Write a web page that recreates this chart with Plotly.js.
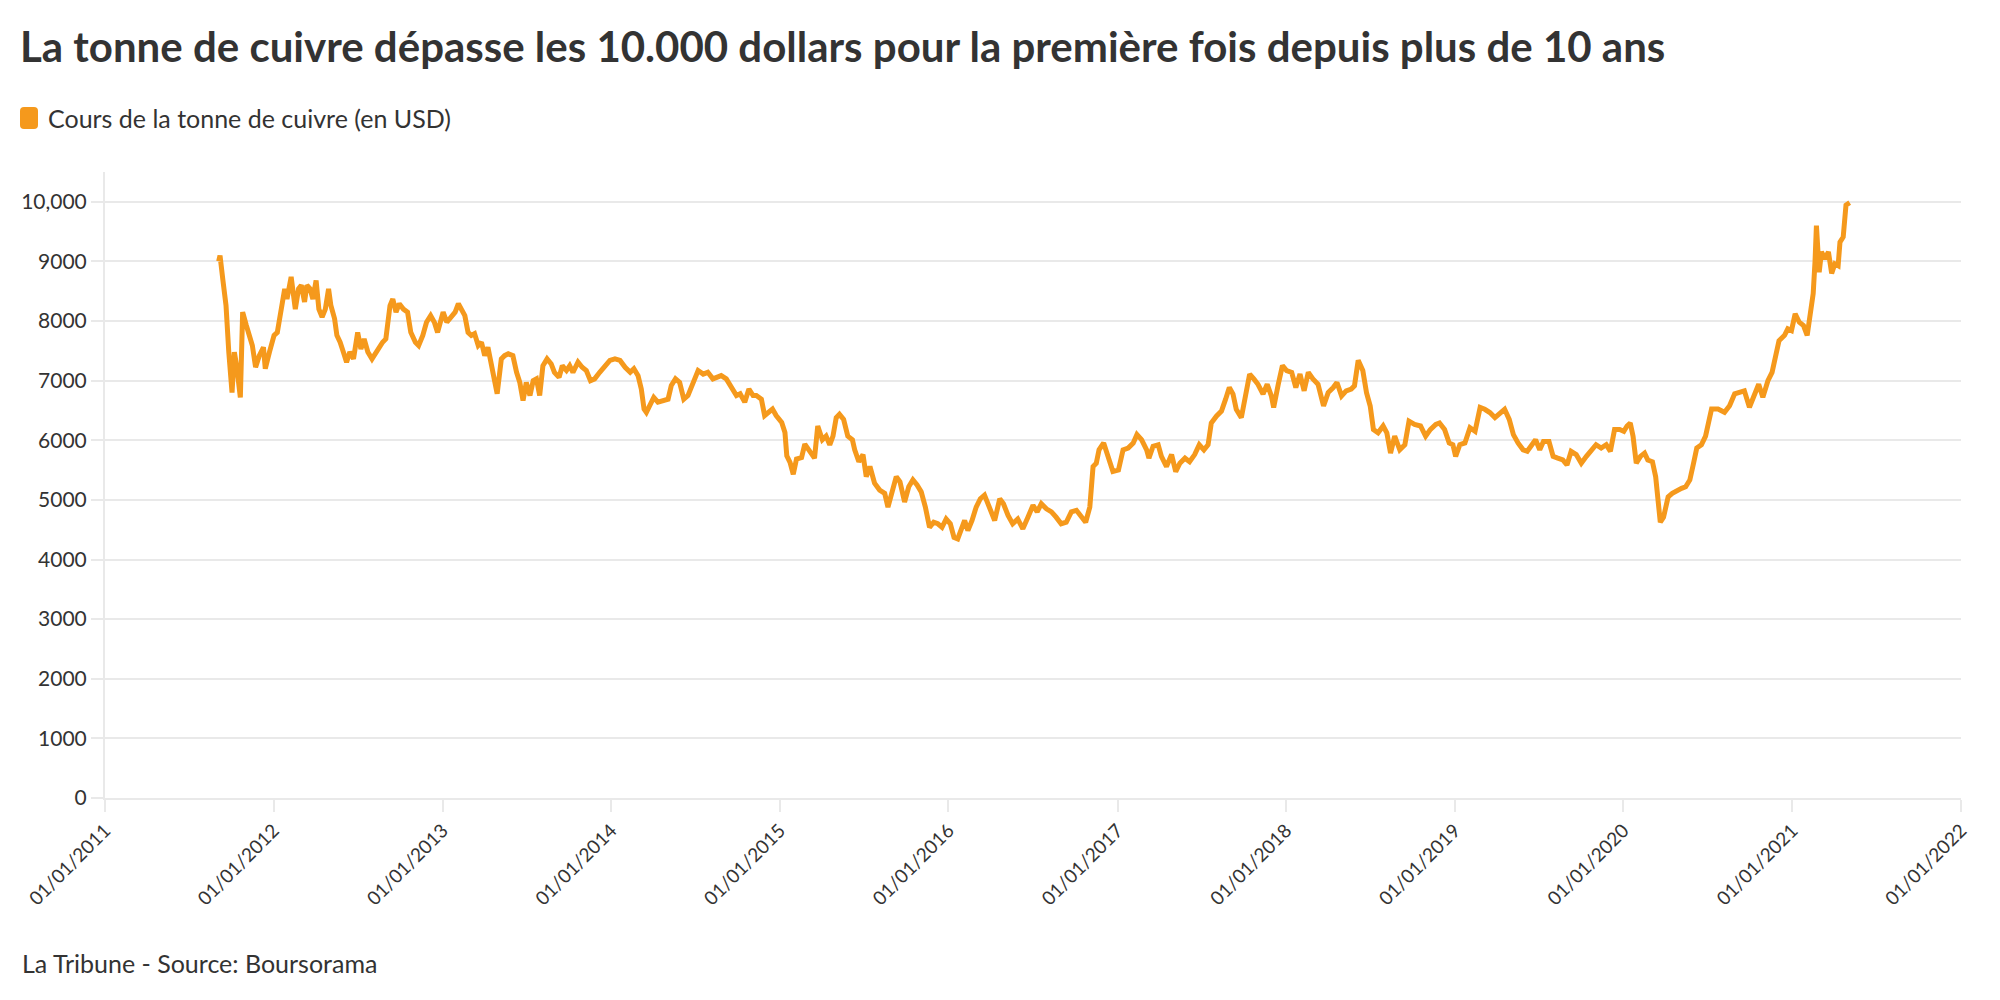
<!DOCTYPE html>
<html>
<head>
<meta charset="utf-8">
<script src="https://cdn.plot.ly/plotly-3.0.1.min.js"></script>
<style>
  html, body { margin: 0; padding: 0; background: #ffffff; }
  #chart { width: 2000px; height: 1000px; }
</style>
</head>
<body>
<div id="chart"></div>
<script>
// Cours de la tonne de cuivre (USD), relevés de septembre 2011 à mai 2021
const dates = [
  '2011-09-04','2011-09-07','2011-09-13','2011-09-20','2011-09-26','2011-10-03','2011-10-08','2011-10-13','2011-10-21','2011-10-26',
  '2011-11-03','2011-11-10','2011-11-16','2011-11-23','2011-12-01','2011-12-10','2011-12-14','2011-12-23',
  '2012-01-02','2012-01-09','2012-01-14','2012-01-20','2012-01-25','2012-01-30','2012-02-08','2012-02-17','2012-02-24','2012-03-01',
  '2012-03-08','2012-03-13','2012-03-20','2012-03-26','2012-04-02','2012-04-08','2012-04-15','2012-04-22','2012-04-29','2012-05-04',
  '2012-05-12','2012-05-17','2012-05-24','2012-05-31','2012-06-07','2012-06-14','2012-06-22','2012-07-01','2012-07-08','2012-07-15',
  '2012-07-23','2012-08-01','2012-08-10','2012-08-17','2012-08-24','2012-08-31','2012-09-09','2012-09-15','2012-09-22','2012-09-29',
  '2012-10-08','2012-10-17','2012-10-24','2012-11-03','2012-11-10','2012-11-19','2012-11-27','2012-12-06','2012-12-14','2012-12-21',
  '2013-01-02','2013-01-10','2013-01-18','2013-01-28','2013-02-04','2013-02-11','2013-02-18','2013-02-25','2013-03-04','2013-03-11',
  '2013-03-19','2013-03-26','2013-04-02','2013-04-09','2013-04-17','2013-04-24','2013-04-29','2013-05-08','2013-05-15','2013-05-23',
  '2013-06-02','2013-06-10','2013-06-17','2013-06-24','2013-07-01','2013-07-09','2013-07-16','2013-07-23','2013-07-30','2013-08-06',
  '2013-08-15','2013-08-24','2013-08-31','2013-09-10','2013-09-17','2013-09-26','2013-10-03','2013-10-10','2013-10-21','2013-10-30',
  '2013-11-08','2013-11-17','2013-11-26','2013-12-07','2013-12-18','2013-12-29',
  '2014-01-09','2014-01-20','2014-01-31','2014-02-11','2014-02-19','2014-02-28','2014-03-07','2014-03-13','2014-03-18','2014-03-27',
  '2014-04-03','2014-04-12','2014-04-23','2014-05-04','2014-05-11','2014-05-20','2014-05-29','2014-06-07','2014-06-16','2014-06-27',
  '2014-07-08','2014-07-19','2014-07-29','2014-08-09','2014-08-18','2014-08-27','2014-09-07','2014-09-18','2014-09-29','2014-10-07',
  '2014-10-17','2014-10-26','2014-11-04','2014-11-11','2014-11-22','2014-11-29','2014-12-06','2014-12-16','2014-12-24',
  '2015-01-05','2015-01-12','2015-01-16','2015-01-23','2015-01-30','2015-02-06','2015-02-17','2015-02-24','2015-03-03','2015-03-07',
  '2015-03-17','2015-03-24','2015-04-03','2015-04-11','2015-04-19','2015-04-26','2015-05-03','2015-05-10','2015-05-19','2015-05-28',
  '2015-06-07','2015-06-12','2015-06-21','2015-06-30','2015-07-07','2015-07-15','2015-07-25','2015-08-05','2015-08-16','2015-08-23',
  '2015-09-01','2015-09-10','2015-09-18','2015-09-28','2015-10-07','2015-10-16','2015-10-25','2015-11-03','2015-11-12','2015-11-21',
  '2015-11-30','2015-12-09','2015-12-18','2015-12-27',
  '2016-01-05','2016-01-13','2016-01-21','2016-01-29','2016-02-05','2016-02-12','2016-02-21','2016-03-01','2016-03-10','2016-03-19',
  '2016-03-30','2016-04-10','2016-04-21','2016-04-29','2016-05-09','2016-05-19','2016-05-30','2016-06-10','2016-06-21','2016-07-02',
  '2016-07-11','2016-07-20','2016-07-31','2016-08-11','2016-08-21','2016-09-01','2016-09-12','2016-09-23','2016-10-04','2016-10-15',
  '2016-10-24','2016-11-02','2016-11-09','2016-11-16','2016-11-22','2016-12-02','2016-12-12','2016-12-22',
  '2017-01-03','2017-01-13','2017-01-24','2017-02-04','2017-02-12','2017-02-22','2017-03-05','2017-03-10','2017-03-19','2017-03-30',
  '2017-04-06','2017-04-17','2017-04-28','2017-05-07','2017-05-16','2017-05-27','2017-06-06','2017-06-17','2017-06-27','2017-07-07',
  '2017-07-16','2017-07-23','2017-08-03','2017-08-14','2017-08-23','2017-08-31','2017-09-08','2017-09-15','2017-09-26','2017-10-06',
  '2017-10-14','2017-10-23','2017-11-01','2017-11-12','2017-11-21','2017-11-30','2017-12-05','2017-12-15','2017-12-24',
  '2018-01-02','2018-01-13','2018-01-22','2018-01-31','2018-02-09','2018-02-18','2018-02-28','2018-03-11','2018-03-23','2018-04-02',
  '2018-04-13','2018-04-21','2018-05-01','2018-05-11','2018-05-22','2018-05-29','2018-06-06','2018-06-16','2018-06-24','2018-07-02',
  '2018-07-09','2018-07-19','2018-07-30','2018-08-07','2018-08-15','2018-08-24','2018-09-04','2018-09-15','2018-09-24','2018-10-06',
  '2018-10-19','2018-10-30','2018-11-09','2018-11-21','2018-11-29','2018-12-10','2018-12-20','2018-12-28',
  '2019-01-03','2019-01-12','2019-01-23','2019-02-03','2019-02-14','2019-02-25','2019-03-07','2019-03-18','2019-03-29','2019-04-09',
  '2019-04-19','2019-04-29','2019-05-08','2019-05-18','2019-05-29','2019-06-07','2019-06-16','2019-06-25','2019-07-04','2019-07-12',
  '2019-07-24','2019-08-02','2019-08-12','2019-08-23','2019-09-01','2019-09-10','2019-09-21','2019-10-02','2019-10-13','2019-10-24',
  '2019-11-03','2019-11-14','2019-11-25','2019-12-04','2019-12-13','2019-12-24',
  '2020-01-02','2020-01-09','2020-01-16','2020-01-22','2020-01-29','2020-02-07','2020-02-16','2020-02-23','2020-03-04','2020-03-11',
  '2020-03-16','2020-03-21','2020-03-28','2020-04-07','2020-04-16','2020-04-26','2020-05-06','2020-05-15','2020-05-24','2020-06-01',
  '2020-06-08','2020-06-18','2020-06-27','2020-07-10','2020-07-24','2020-08-07','2020-08-18','2020-08-29','2020-09-12','2020-09-19',
  '2020-09-30','2020-10-09','2020-10-20','2020-10-29','2020-11-09','2020-11-18','2020-11-25','2020-12-03','2020-12-15','2020-12-22',
  '2020-12-30',
  '2021-01-07','2021-01-16','2021-01-25','2021-02-02','2021-02-08','2021-02-12','2021-02-15','2021-02-19','2021-02-22','2021-02-28',
  '2021-03-05','2021-03-12','2021-03-20','2021-03-27','2021-04-03','2021-04-10','2021-04-14','2021-04-21','2021-04-27','2021-05-05'
];
const prices = [
  9000, 9100, 8700, 8260, 7480, 6800, 7480, 7250, 6720, 8150,
  7925, 7700, 7590, 7225, 7420, 7560, 7200, 7480,
  7760, 7810, 8040, 8370, 8540, 8370, 8740, 8200, 8540, 8600,
  8320, 8600, 8540, 8370, 8680, 8200, 8065, 8200, 8540, 8260,
  8040, 7760, 7645, 7480, 7310, 7480, 7365, 7810, 7530, 7700,
  7480, 7365, 7480, 7530, 7645, 7700, 8260, 8370, 8150, 8290,
  8200, 8150, 7810, 7645, 7590, 7760, 7980, 8090, 7980, 7810,
  8150, 7980, 8065, 8150, 8290, 8200, 8090, 7810, 7760, 7790,
  7590, 7645, 7420, 7560, 7200, 6980, 6780, 7365, 7420, 7450,
  7420, 7140, 6970, 6665, 6970, 6750, 7000, 7030, 6750, 7250,
  7365, 7280, 7140, 7055, 7250, 7170, 7250, 7140, 7310, 7225,
  7170, 7000, 7030, 7140, 7250, 7340,
  7365, 7340, 7225, 7140, 7200, 7085, 6860, 6525, 6470, 6640,
  6720, 6640, 6660, 6690, 6920, 7030, 6970, 6690, 6750, 6970,
  7170, 7110, 7140, 7030, 7055, 7085, 7030, 6890, 6750, 6780,
  6640, 6860, 6750, 6750, 6690, 6415, 6470, 6525, 6415,
  6300, 6130, 5740, 5630, 5430, 5685, 5710, 5935, 5850, 5840,
  5700, 6240, 6010, 6070, 5925, 6070, 6380, 6435, 6350, 6070,
  6010, 5840, 5640, 5760, 5390, 5560, 5280, 5165, 5110, 4880,
  5165, 5390, 5305, 4965, 5220, 5335, 5250, 5135, 4880, 4540,
  4625, 4600, 4540, 4680,
  4600, 4370, 4345, 4485, 4655, 4485, 4655, 4880, 5020, 5080,
  4880, 4655, 5020, 4935, 4740, 4600, 4680, 4515, 4710, 4910,
  4800, 4935, 4850, 4800, 4710, 4600, 4625, 4800, 4825, 4710,
  4625, 4880, 5560, 5615, 5840, 5955, 5690, 5475,
  5500, 5840, 5870, 5955, 6095, 6010, 5840, 5700, 5900, 5925,
  5730, 5560, 5760, 5475, 5615, 5700, 5640, 5760, 5925, 5840,
  5925, 6290, 6405, 6490, 6690, 6885, 6775, 6520, 6380, 6745,
  7110, 7030, 6940, 6775, 6940, 6745, 6550, 6940, 7255,
  7170, 7140, 6885, 7110, 6830, 7140, 7030, 6940, 6575, 6800,
  6885, 6970, 6745, 6830, 6860, 6915, 7340, 7170, 6800, 6575,
  6180, 6125, 6240, 6125, 5785, 6070, 5840, 5925, 6320, 6265,
  6240, 6070, 6180, 6265, 6290, 6180, 5955, 5925,
  5730, 5925, 5955, 6210, 6150, 6550, 6520, 6465, 6380, 6465,
  6520, 6350, 6095, 5955, 5840, 5815, 5900, 6010, 5840, 5980,
  5980, 5730, 5700, 5670, 5585, 5815, 5760, 5615, 5730, 5840,
  5925, 5870, 5925, 5815, 6180, 6180,
  6150, 6240, 6290, 6070, 5615, 5730, 5785, 5670, 5640, 5390,
  5050, 4625, 4710, 5050, 5110, 5165, 5195, 5220, 5335, 5615,
  5870, 5925, 6070, 6525, 6525, 6470, 6580, 6780, 6800, 6830,
  6555, 6720, 6940, 6720, 7000, 7140, 7365, 7670, 7760, 7870,
  7840,
  8120, 7980, 7925, 7760, 8150, 8370, 8460, 9000, 9600, 8820,
  9160, 9045, 9160, 8800, 8960, 8930, 9325, 9410, 9945, 9985
];

// Graduations de l'axe des dates
const yearTicks = ['2011-01-01','2012-01-01','2013-01-01','2014-01-01','2015-01-01','2016-01-01',
                   '2017-01-01','2018-01-01','2019-01-01','2020-01-01','2021-01-01','2022-01-01'];
const yearLabels = ['01/01/2011','01/01/2012','01/01/2013','01/01/2014','01/01/2015','01/01/2016',
                    '01/01/2017','01/01/2018','01/01/2019','01/01/2020','01/01/2021','01/01/2022'];

// Graduations de l'axe des prix
const priceTicks = [0, 1000, 2000, 3000, 4000, 5000, 6000, 7000, 8000, 9000, 10000];
const priceLabels = ['0','1000','2000','3000','4000','5000','6000','7000','8000','9000','10,000'];

const seriesName = 'Cours de la tonne de cuivre (en USD)';
const chartTitle = 'La tonne de cuivre dépasse les 10.000 dollars pour la première fois depuis plus de 10 ans';
const footer = 'La Tribune - Source: Boursorama';

const FONT = 'Lato, "Noto Sans", sans-serif';
const TEXT = '#333333';
const ORANGE = '#f5991c';
const GRID = '#e9e9e9';

const W = 2000, H = 1000;
const M = { l: 105, r: 39, t: 172, b: 202 };
const plotW = W - M.l - M.r, plotH = H - M.t - M.b;
const px = v => (v - M.l) / plotW;        // page x -> paper x
const py = v => (H - M.b - v) / plotH;    // page y -> paper y

const trace = {
  type: 'scatter',
  mode: 'lines',
  name: seriesName,
  x: dates,
  y: prices,
  line: { color: ORANGE, width: 5, shape: 'linear' },
  hoverinfo: 'x+y',
  showlegend: false
};

const layout = {
  width: W,
  height: H,
  paper_bgcolor: '#ffffff',
  plot_bgcolor: '#ffffff',
  margin: M,
  font: { family: FONT, color: TEXT },
  title: {
    text: '<b>' + chartTitle + '</b>',
    font: { family: FONT, size: 42, color: TEXT },
    xref: 'container', yref: 'container',
    x: 20 / W, xanchor: 'left',
    y: 1 - 47 / H, yanchor: 'middle'
  },
  xaxis: {
    type: 'date',
    range: ['2011-01-01', '2022-01-01'],
    tickmode: 'array',
    tickvals: yearTicks,
    ticktext: yearLabels,
    tickangle: -45,
    tickfont: { family: FONT, size: 19, color: TEXT },
    ticks: 'outside',
    ticklen: 12,
    tickwidth: 2,
    tickcolor: GRID,
    showgrid: false,
    showline: true,
    linecolor: GRID,
    linewidth: 2,
    zeroline: false,
    fixedrange: true
  },
  yaxis: {
    range: [0, 10500],
    tickmode: 'array',
    tickvals: priceTicks,
    ticktext: priceLabels,
    tickfont: { family: FONT, size: 21, color: TEXT },
    ticks: 'outside',
    ticklen: 12,
    tickwidth: 2,
    tickcolor: GRID,
    showgrid: true,
    gridcolor: GRID,
    gridwidth: 2,
    showline: true,
    linecolor: GRID,
    linewidth: 2,
    zeroline: false,
    fixedrange: true
  },
  shapes: [
    {
      // pastille de légende aux coins arrondis
      type: 'path',
      xref: 'paper', yref: 'paper',
      xsizemode: 'pixel', ysizemode: 'pixel',
      xanchor: px(20), yanchor: py(129),
      path: 'M 4 0 L 14 0 Q 18 0 18 4 L 18 18 Q 18 22 14 22 L 4 22 Q 0 22 0 18 L 0 4 Q 0 0 4 0 Z',
      fillcolor: ORANGE,
      line: { width: 0 }
    }
  ],
  annotations: [
    {
      text: seriesName,
      xref: 'paper', yref: 'paper',
      x: px(46), y: py(118),
      xanchor: 'left', yanchor: 'middle',
      showarrow: false,
      font: { family: FONT, size: 25, color: TEXT }
    },
    {
      text: footer,
      xref: 'paper', yref: 'paper',
      x: px(20), y: py(963),
      xanchor: 'left', yanchor: 'middle',
      showarrow: false,
      font: { family: FONT, size: 25, color: TEXT }
    }
  ]
};

Plotly.newPlot('chart', [trace], layout, { displayModeBar: false, staticPlot: true });
</script>
</body>
</html>
